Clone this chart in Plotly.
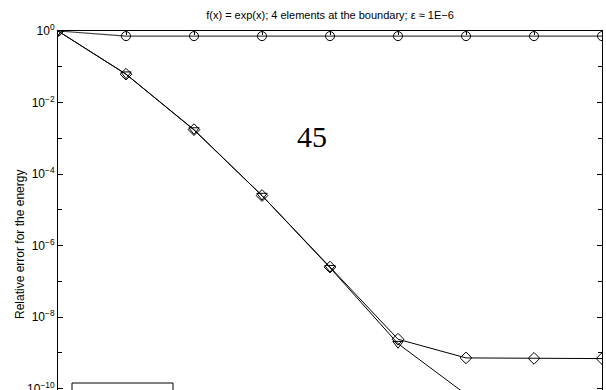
import plotly.graph_objects as go

# polynomial degree / step index on the x axis
steps = [1, 2, 3, 4, 5, 6, 7, 8, 9]

err_circle = [1.0, 0.72, 0.72, 0.72, 0.72, 0.72, 0.72, 0.72, 0.72]
err_diamond = [1.0, 6.2e-2, 1.74e-3, 2.5e-5, 2.5e-7, 2.4e-9, 7.2e-10, 7.0e-10, 6.9e-10]
err_triangle = [1.0, 6.2e-2, 1.7e-3, 2.5e-5, 2.4e-7, 1.8e-9, 6.9e-11]

ytick_vals = [1, 1e-2, 1e-4, 1e-6, 1e-8, 1e-10]
ytick_text = ["10<sup>0</sup>", "10<sup>\u22122</sup>", "10<sup>\u22124</sup>",
              "10<sup>\u22126</sup>", "10<sup>\u22128</sup>", "10<sup>\u221210</sup>"]
yminor_vals = [1e-1, 1e-3, 1e-5, 1e-7, 1e-9]

title = "f(x) = exp(x); 4 elements at the boundary; \u03b5 \u2248 1E\u22126"
ytitle = "Relative error for the energy"

W, H = 606, 390
L, R, T = 58, 4, 31
pw, ph = W - L - R, H - T


def px_to_paper(x, y):
    return (x - L) / pw, (H - y) / ph


fig = go.Figure()
fig.add_trace(go.Scatter(x=steps, y=err_circle, mode="lines+markers",
                         line=dict(color="#444", width=1.2),
                         marker=dict(symbol="circle-open", size=9, color="black", line=dict(width=1))))
fig.add_trace(go.Scatter(x=steps[:len(err_triangle)], y=err_triangle, mode="lines+markers",
                         line=dict(color="black", width=1),
                         marker=dict(symbol="triangle-down-open", size=9, color="black", line=dict(width=1))))
fig.add_trace(go.Scatter(x=steps, y=err_diamond, mode="lines+markers",
                         line=dict(color="black", width=1),
                         marker=dict(symbol="diamond-open", size=9, color="black", line=dict(width=1))))

fig.update_layout(
    width=W, height=H,
    template="none",
    showlegend=False,
    plot_bgcolor="white", paper_bgcolor="white",
    margin=dict(l=L, r=R, t=T, b=0),
    font=dict(family="Liberation Sans, Arial, sans-serif", size=11, color="black"),
    title=dict(text=title, x=0.5, xref="paper", y=1 - 15/H, yref="container",
               yanchor="middle", font=dict(size=11)),
)
fig.update_xaxes(range=[1, 9], side="top", showline=True, linecolor="black", linewidth=1,
                 showgrid=False, zeroline=False, showticklabels=False,
                 tickvals=steps, ticks="inside", ticklen=4, tickcolor="black",
                 automargin=False)
fig.update_yaxes(type="log", range=[-10.04, 0], showline=True, mirror="allticks",
                 linecolor="black", linewidth=1, showgrid=False, zeroline=False,
                 tickvals=ytick_vals, ticktext=ytick_text, ticks="inside", ticklen=5,
                 tickcolor="black", tickfont=dict(size=12), ticklabeloverflow="allow",
                 minor=dict(tickvals=yminor_vals, ticks="inside", ticklen=4, tickcolor="black"),
                 automargin=False)

# y axis title; the full axis runs below the cropped view, so it sits lower than centre
tx, ty = px_to_paper(20, 245)
fig.add_annotation(text=ytitle, textangle=-90, x=tx, y=ty, xref="paper", yref="paper",
                   showarrow=False, xanchor="center", yanchor="middle", font=dict(size=12))

# legend frame, mostly below the visible area
x0, y1 = px_to_paper(72, 383)
x1, _ = px_to_paper(173, 383)
fig.add_shape(type="rect", xref="paper", yref="paper", x0=x0, x1=x1, y0=-0.3, y1=y1,
              line=dict(color="black", width=1), fillcolor="white", layer="above")

nx, ny = px_to_paper(312, 136)
fig.add_annotation(text="45", x=nx, y=ny, xref="paper", yref="paper",
                   showarrow=False, xanchor="center", yanchor="middle",
                   font=dict(family="Liberation Serif, DejaVu Serif, serif", size=30, color="black"))

# drop the default body margin so the figure sits at the page corner
fig.write_html("out.html", config={"displayModeBar": False},
               post_script="document.body.style.margin='0';document.body.style.overflow='hidden';")
